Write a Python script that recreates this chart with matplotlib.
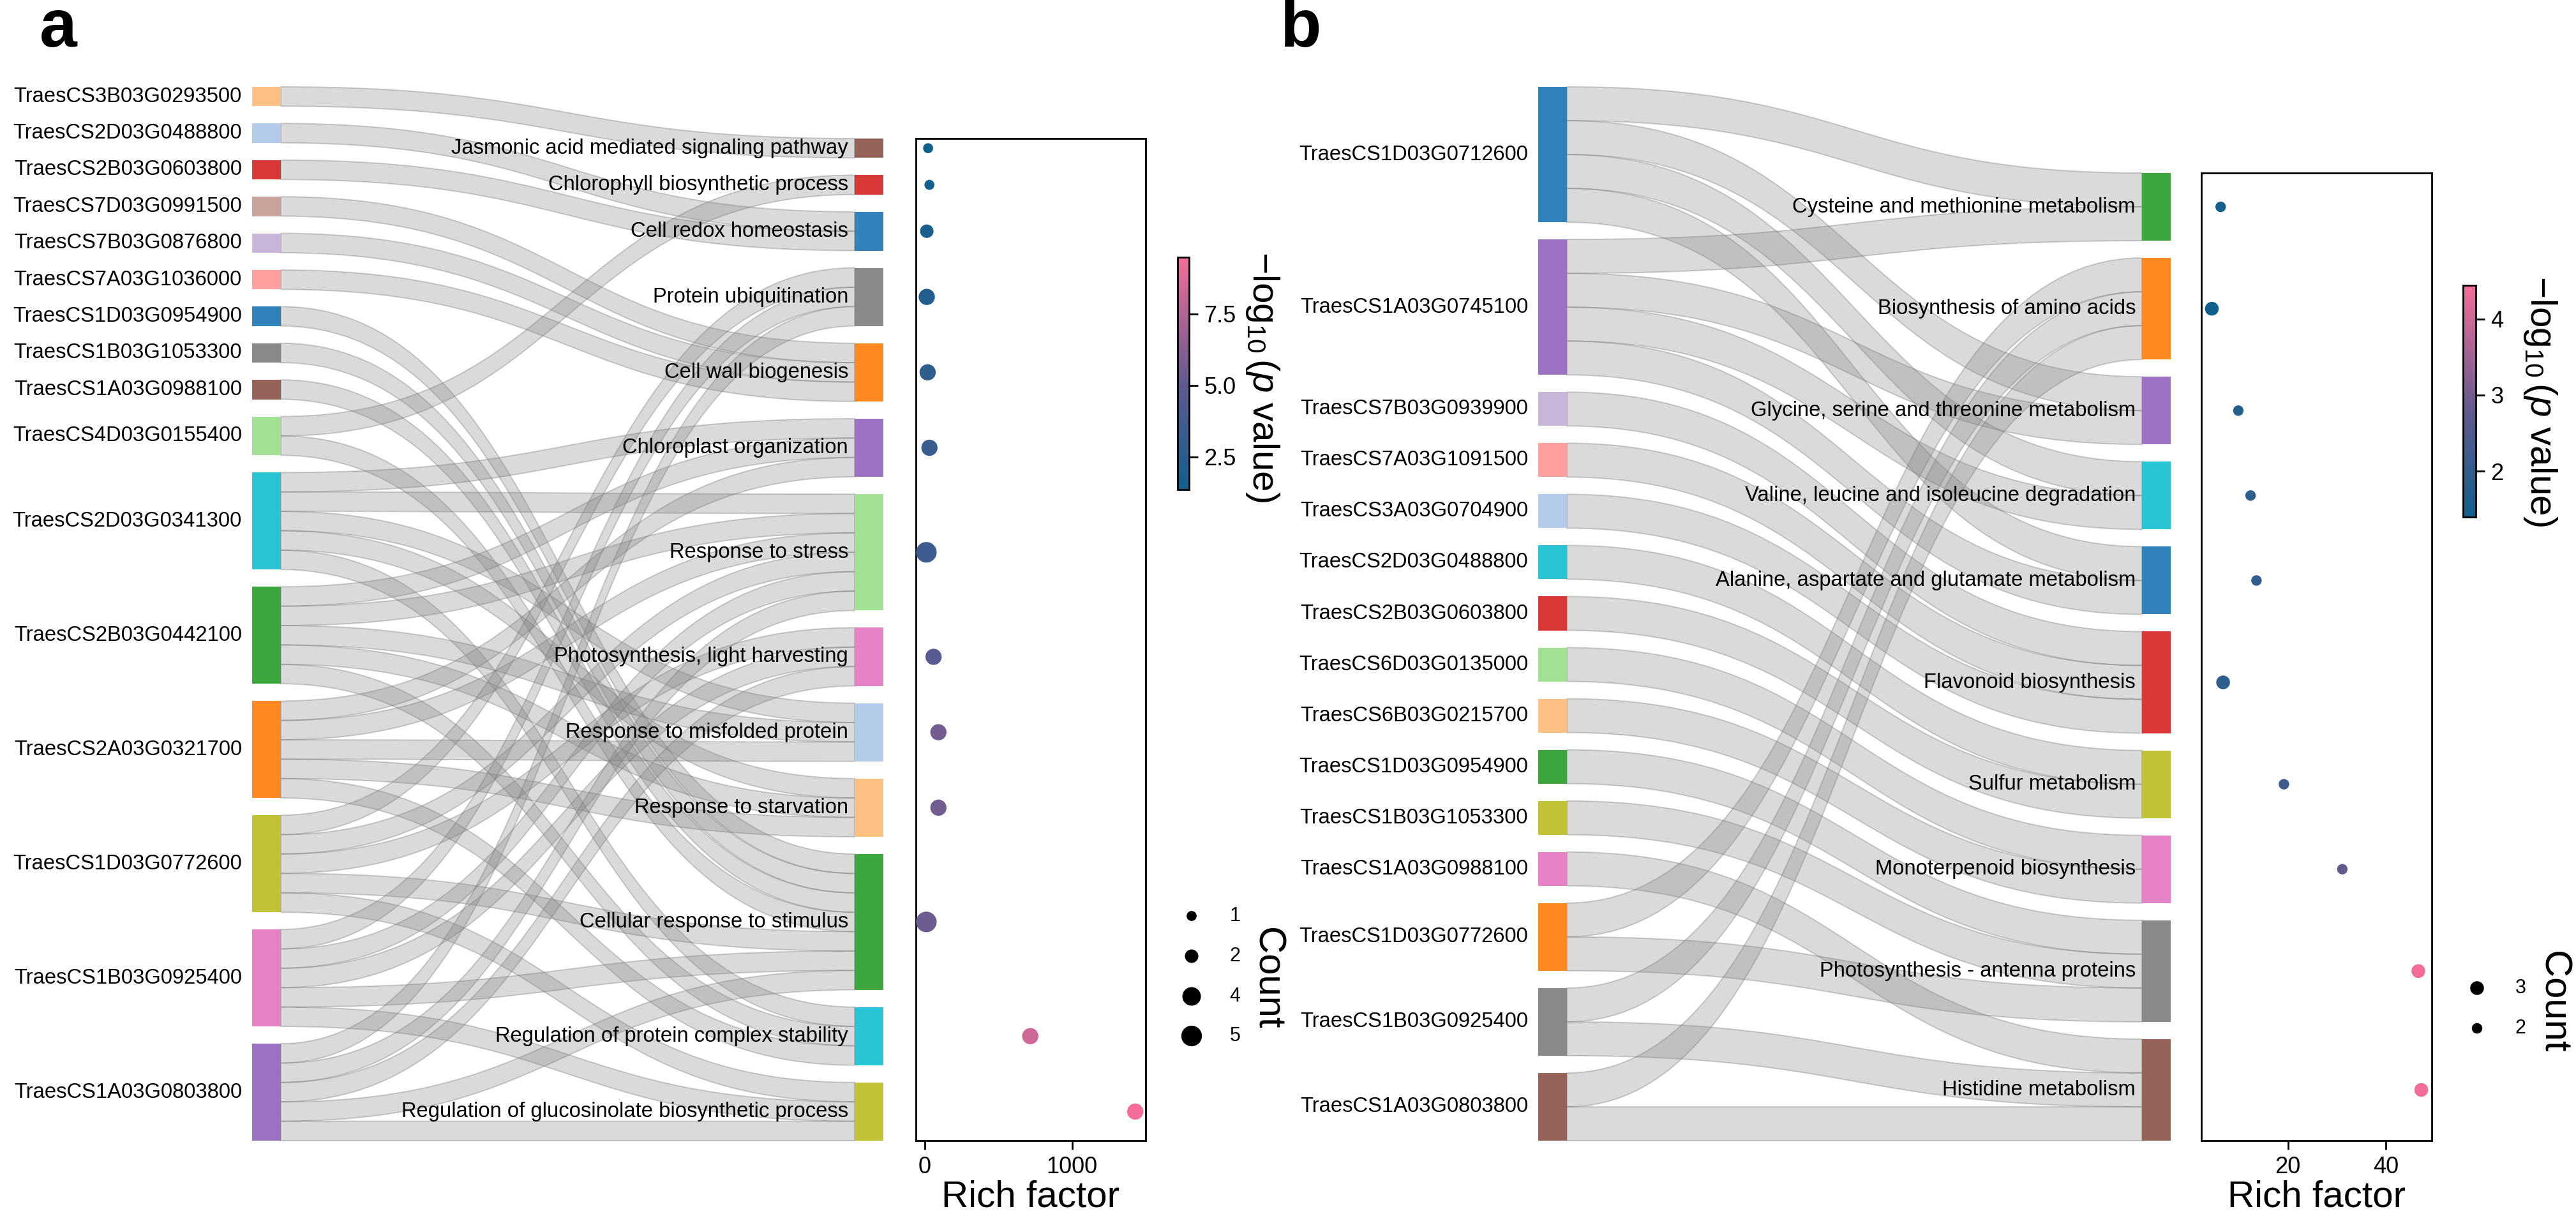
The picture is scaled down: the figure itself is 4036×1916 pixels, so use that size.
import numpy as np
import matplotlib
matplotlib.use("Agg")
import matplotlib.pyplot as plt
from matplotlib.path import Path
from matplotlib.patches import PathPatch, Rectangle
from matplotlib.colors import LinearSegmentedColormap, Normalize
from matplotlib.cm import ScalarMappable

plt.rcParams["font.family"] = ["Liberation Sans", "DejaVu Sans"]
plt.rcParams["mathtext.fontset"] = "custom"
plt.rcParams["mathtext.rm"] = "Liberation Sans"
plt.rcParams["mathtext.it"] = "Liberation Sans:italic"
plt.rcParams["mathtext.bf"] = "Liberation Sans:bold"

W, H, DPI = 4036, 1916, 200

# ---------------- panel a data ----------------
a_genes = ["TraesCS3B03G0293500", "TraesCS2D03G0488800", "TraesCS2B03G0603800",
           "TraesCS7D03G0991500", "TraesCS7B03G0876800", "TraesCS7A03G1036000",
           "TraesCS1D03G0954900", "TraesCS1B03G1053300", "TraesCS1A03G0988100",
           "TraesCS4D03G0155400", "TraesCS2D03G0341300", "TraesCS2B03G0442100",
           "TraesCS2A03G0321700", "TraesCS1D03G0772600", "TraesCS1B03G0925400",
           "TraesCS1A03G0803800"]
a_gene_colors = ["#ffbb78", "#aec7e8", "#d62728", "#c49c94", "#c5b0d5", "#ff9896",
                 "#1f77b4", "#7f7f7f", "#8c564b", "#98df8a", "#17becf", "#2ca02c",
                 "#ff7f0e", "#bcbd22", "#e377c2", "#9467bd"]
a_terms = ["Jasmonic acid mediated signaling pathway", "Chlorophyll biosynthetic process",
           "Cell redox homeostasis", "Protein ubiquitination", "Cell wall biogenesis",
           "Chloroplast organization", "Response to stress", "Photosynthesis, light harvesting",
           "Response to misfolded protein", "Response to starvation",
           "Cellular response to stimulus", "Regulation of protein complex stability",
           "Regulation of glucosinolate biosynthetic process"]
a_term_colors = ["#8c564b", "#d62728", "#1f77b4", "#7f7f7f", "#ff7f0e", "#9467bd",
                 "#98df8a", "#e377c2", "#aec7e8", "#ffbb78", "#2ca02c", "#17becf", "#bcbd22"]
a_group2 = ["Chloroplast organization", "Response to stress", "Response to misfolded protein",
            "Response to starvation", "Regulation of protein complex stability"]
a_group1 = ["Protein ubiquitination", "Response to stress", "Photosynthesis, light harvesting",
            "Cellular response to stimulus", "Regulation of glucosinolate biosynthetic process"]
a_links = {
    "TraesCS3B03G0293500": ["Jasmonic acid mediated signaling pathway"],
    "TraesCS2D03G0488800": ["Cell redox homeostasis"],
    "TraesCS2B03G0603800": ["Cell redox homeostasis"],
    "TraesCS7D03G0991500": ["Cell wall biogenesis"],
    "TraesCS7B03G0876800": ["Cell wall biogenesis"],
    "TraesCS7A03G1036000": ["Cell wall biogenesis"],
    "TraesCS1D03G0954900": ["Cellular response to stimulus"],
    "TraesCS1B03G1053300": ["Cellular response to stimulus"],
    "TraesCS1A03G0988100": ["Cellular response to stimulus"],
    "TraesCS4D03G0155400": ["Chlorophyll biosynthetic process", "Cellular response to stimulus"],
    "TraesCS2D03G0341300": a_group2,
    "TraesCS2B03G0442100": a_group2,
    "TraesCS2A03G0321700": a_group2,
    "TraesCS1D03G0772600": a_group1,
    "TraesCS1B03G0925400": a_group1,
    "TraesCS1A03G0803800": a_group1,
}
a_rich = [24, 33, 15, 15, 21, 33, 12, 61, 94, 94, 12, 717, 1429]
a_logp = [1.35, 1.45, 1.7, 2.2, 2.8, 3.3, 3.5, 4.7, 5.6, 5.6, 5.4, 8.3, 9.49]
a_count = [1, 1, 2, 3, 3, 3, 5, 3, 3, 3, 5, 3, 3]
a_count_legend = [1, 2, 4, 5]
a_rich_ticks = [0, 1000]
a_cbar_ticks = [2.5, 5.0, 7.5]

# ---------------- panel b data ----------------
b_genes = ["TraesCS1D03G0712600", "TraesCS1A03G0745100", "TraesCS7B03G0939900",
           "TraesCS7A03G1091500", "TraesCS3A03G0704900", "TraesCS2D03G0488800",
           "TraesCS2B03G0603800", "TraesCS6D03G0135000", "TraesCS6B03G0215700",
           "TraesCS1D03G0954900", "TraesCS1B03G1053300", "TraesCS1A03G0988100",
           "TraesCS1D03G0772600", "TraesCS1B03G0925400", "TraesCS1A03G0803800"]
b_gene_colors = ["#1f77b4", "#9467bd", "#c5b0d5", "#ff9896", "#aec7e8", "#17becf",
                 "#d62728", "#98df8a", "#ffbb78", "#2ca02c", "#bcbd22", "#e377c2",
                 "#ff7f0e", "#7f7f7f", "#8c564b"]
b_terms = ["Cysteine and methionine metabolism", "Biosynthesis of amino acids",
           "Glycine, serine and threonine metabolism", "Valine, leucine and isoleucine degradation",
           "Alanine, aspartate and glutamate metabolism", "Flavonoid biosynthesis",
           "Sulfur metabolism", "Monoterpenoid biosynthesis", "Photosynthesis - antenna proteins",
           "Histidine metabolism"]
b_term_colors = ["#2ca02c", "#ff7f0e", "#9467bd", "#17becf", "#1f77b4", "#d62728",
                 "#bcbd22", "#e377c2", "#7f7f7f", "#8c564b"]
b_amino = ["Cysteine and methionine metabolism", "Glycine, serine and threonine metabolism",
           "Valine, leucine and isoleucine degradation", "Alanine, aspartate and glutamate metabolism"]
b_links = {
    "TraesCS1D03G0712600": b_amino,
    "TraesCS1A03G0745100": b_amino,
    "TraesCS7B03G0939900": ["Flavonoid biosynthesis"],
    "TraesCS7A03G1091500": ["Flavonoid biosynthesis"],
    "TraesCS3A03G0704900": ["Flavonoid biosynthesis"],
    "TraesCS2D03G0488800": ["Sulfur metabolism"],
    "TraesCS2B03G0603800": ["Sulfur metabolism"],
    "TraesCS6D03G0135000": ["Monoterpenoid biosynthesis"],
    "TraesCS6B03G0215700": ["Monoterpenoid biosynthesis"],
    "TraesCS1D03G0954900": ["Photosynthesis - antenna proteins"],
    "TraesCS1B03G1053300": ["Photosynthesis - antenna proteins"],
    "TraesCS1A03G0988100": ["Histidine metabolism"],
    "TraesCS1D03G0772600": ["Biosynthesis of amino acids", "Photosynthesis - antenna proteins"],
    "TraesCS1B03G0925400": ["Biosynthesis of amino acids", "Histidine metabolism"],
    "TraesCS1A03G0803800": ["Biosynthesis of amino acids", "Histidine metabolism"],
}
b_rich = [6.3, 4.5, 9.9, 12.4, 13.6, 6.8, 19.2, 31.1, 46.6, 47.2]
b_logp = [1.5, 1.4, 1.75, 1.9, 1.95, 1.9, 2.2, 2.8, 4.4, 4.44]
b_count = [2, 3, 2, 2, 2, 3, 2, 2, 3, 3]
b_count_legend = [3, 2]
b_rich_ticks = [20, 40]
b_cbar_ticks = [2, 3, 4]

CMAP = LinearSegmentedColormap.from_list(
    "blue_pink", [(0.0, "#10608e"), (0.45, "#5f5a8f"), (1.0, "#f46d98")])


def stack(values, unit, bottom, pad):
    """Bottom-aligned stacking of node extents (pixel y, downward)."""
    total = sum(values) * unit + (len(values) - 1) * pad
    y = bottom - total
    pos = []
    for v in values:
        pos.append((y, y + v * unit))
        y += v * unit + pad
    return pos


def draw_sankey(ax, genes, gene_colors, terms, term_colors, links,
                x_left, x_right, top=136, bottom=1787, pad=27, node_w=45):
    g_idx = {g: i for i, g in enumerate(genes)}
    t_idx = {t: i for i, t in enumerate(terms)}
    pairs = [(g_idx[g], t_idx[t]) for g in genes for t in links[g]]
    g_val = [sum(1 for s, _ in pairs if s == i) for i in range(len(genes))]
    t_val = [sum(1 for _, t in pairs if t == j) for j in range(len(terms))]
    unit = min((bottom - top - (len(genes) - 1) * pad) / sum(g_val),
               (bottom - top - (len(terms) - 1) * pad) / sum(t_val))
    g_pos = stack(g_val, unit, bottom, pad)
    t_pos = stack(t_val, unit, bottom, pad)

    out_off, in_off = {}, {}
    for i in range(len(genes)):
        y = g_pos[i][0]
        for p in sorted([p for p in pairs if p[0] == i], key=lambda p: p[1]):
            out_off[p] = y
            y += unit
    for j in range(len(terms)):
        y = t_pos[j][0]
        for p in sorted([p for p in pairs if p[1] == j], key=lambda p: p[0]):
            in_off[p] = y
            y += unit

    xs, xt = x_left + node_w, x_right
    xm = (xs + xt) / 2
    codes = [Path.MOVETO, Path.CURVE4, Path.CURVE4, Path.CURVE4, Path.LINETO,
             Path.CURVE4, Path.CURVE4, Path.CURVE4, Path.CLOSEPOLY]
    for p in pairs:
        s0, t0 = out_off[p], in_off[p]
        s1, t1 = s0 + unit, t0 + unit
        verts = [(xs, s0), (xm, s0), (xm, t0), (xt, t0), (xt, t1),
                 (xm, t1), (xm, s1), (xs, s1), (xs, s0)]
        ax.add_patch(PathPatch(Path(verts, codes), facecolor=(0.52, 0.52, 0.52, 0.3),
                               edgecolor=(0.45, 0.45, 0.45, 0.35), lw=0.7, zorder=1))

    for i, g in enumerate(genes):
        y0, y1 = g_pos[i]
        ax.add_patch(Rectangle((x_left, y0), node_w, y1 - y0, facecolor=gene_colors[i],
                               alpha=0.92, lw=0, zorder=2))
        ax.text(x_left - 16, (y0 + y1) / 2, g, ha="right", va="center", fontsize=11.8, zorder=3)
    for j, t in enumerate(terms):
        y0, y1 = t_pos[j]
        ax.add_patch(Rectangle((x_right, y0), node_w, y1 - y0, facecolor=term_colors[j],
                               alpha=0.92, lw=0, zorder=2))
        ax.text(x_right - 10, (y0 + y1) / 2, t, ha="right", va="center", fontsize=11.8, zorder=3)

    centers = [(a + b) / 2 for a, b in t_pos]
    return centers, t_pos[0][0], t_pos[-1][1]


def px_axes(fig, x0, y0, x1, y1):
    return fig.add_axes([x0 / W, 1 - y1 / H, (x1 - x0) / W, (y1 - y0) / H])


def draw_dots(fig, ax, centers, y_top, y_bot, rich, logp, count, ticks, box_x,
              size_range, cbar_box, cbar_ticks, cbar_label_xy, legend_counts,
              legend_x, legend_y, count_label_xy):
    dax = px_axes(fig, box_x[0], y_top, box_x[1], y_bot)
    norm = Normalize(min(logp), max(logp))
    cmin, cmax = min(count), max(count)
    sizes_of = lambda c: size_range[0] + (np.asarray(c) - cmin) * \
        (size_range[1] - size_range[0]) / max(cmax - cmin, 1)
    dax.scatter(rich, centers, s=sizes_of(count), c=logp, cmap=CMAP, norm=norm,
                linewidths=0, zorder=3)
    dax.set_ylim(y_bot, y_top)
    dax.set_yticks([])
    dax.set_xticks(ticks)
    dax.tick_params(axis="x", labelsize=13, length=5, width=1)
    for sp in dax.spines.values():
        sp.set_linewidth(1.0)
    dax.set_xlabel("Rich factor", fontsize=21, labelpad=1)

    cax = px_axes(fig, *cbar_box)
    cb = fig.colorbar(ScalarMappable(norm=norm, cmap=CMAP), cax=cax)
    cb.set_ticks(cbar_ticks)
    cax.tick_params(labelsize=13, length=5, width=1)
    cb.outline.set_linewidth(1.0)
    ax.text(cbar_label_xy[0], cbar_label_xy[1], r"$-\log_{10}(p$ value)", rotation=270,
            ha="center", va="center", fontsize=21)

    ax.scatter([legend_x[0]] * len(legend_counts), legend_y, s=sizes_of(legend_counts),
               c="black", linewidths=0)
    for c, y in zip(legend_counts, legend_y):
        ax.text(legend_x[1], y, str(c), ha="center", va="center", fontsize=11)
    ax.text(count_label_xy[0], count_label_xy[1], "Count", rotation=270,
            ha="center", va="center", fontsize=21.5)


fig = plt.figure(figsize=(W / DPI, H / DPI), dpi=DPI)
ax = fig.add_axes([0, 0, 1, 1])
ax.set_xlim(0, W)
ax.set_ylim(H, 0)
ax.axis("off")

# panel a
ca, ta, ba = draw_sankey(ax, a_genes, a_gene_colors, a_terms, a_term_colors, a_links,
                         x_left=395, x_right=1339)
draw_dots(fig, ax, ca, ta, ba, a_rich, a_logp, a_count, a_rich_ticks, (1435, 1795),
          (32, 135), (1845, 403, 1863, 767), a_cbar_ticks, (1978, 590),
          a_count_legend, (1867, 1935), [1435, 1498, 1561, 1623], (1985, 1533))

# panel b
cb_, tb, bb = draw_sankey(ax, b_genes, b_gene_colors, b_terms, b_term_colors, b_links,
                          x_left=2410, x_right=3356)
draw_dots(fig, ax, cb_, tb, bb, b_rich, b_logp, b_count, b_rich_ticks, (3449, 3810),
          (35, 60), (3859, 447, 3879, 810), b_cbar_ticks, (3980, 628),
          b_count_legend, (3881, 3949), [1548, 1611], (4000, 1570))

ax.text(62, 73, "a", fontsize=38, fontweight="bold", va="baseline")
ax.text(2005, 73, "b", fontsize=38, fontweight="bold", va="baseline")

fig.savefig("out.png", dpi=DPI)
